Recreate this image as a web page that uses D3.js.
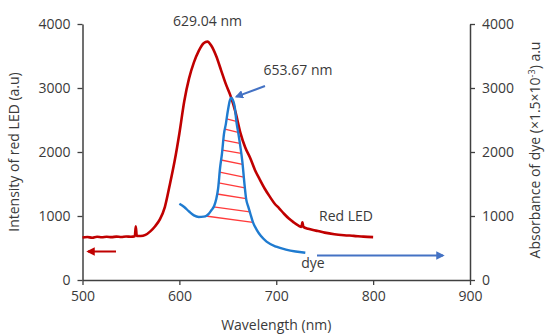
<!DOCTYPE html>
<html>
<head>
<meta charset="utf-8">
<script src="https://cdn.jsdelivr.net/npm/d3@7"></script>
<style>
body { margin: 0; background: #fff; }
text { font-family: "Open Sans", sans-serif; fill: #3a3a3a; }
</style>
</head>
<body>
<div class="container"></div>
<script>
const width = 547;
const height = 336;
const margin = {left: 82.5, right: 77, top: 24, bottom: 56};

// red LED emission spectrum (nm, a.u.)
const ledWave = [500, 505, 510, 515, 520, 525, 530, 535, 540, 545, 550, 554, 555, 556, 560, 565, 570, 575, 580, 585,
    590, 595, 600, 605, 610, 615, 620, 625, 629, 633, 638, 643, 648, 653, 658, 663, 668, 673, 678, 683,
    688, 693, 698, 703, 708, 713, 718, 723, 726, 727, 728, 733, 738, 743, 750, 760, 770, 780, 790, 800];
const ledValue = [665, 672, 660, 675, 668, 676, 670, 678, 672, 680, 676, 684, 840, 690, 688, 705, 760, 840, 950, 1140,
    1480, 1850, 2290, 2790, 3150, 3400, 3580, 3700, 3725, 3660, 3500, 3280, 3060, 2870, 2620, 2300, 2070, 1910, 1720, 1570,
    1430, 1310, 1200, 1120, 1035, 960, 900, 850, 830, 900, 830, 800, 780, 765, 740, 715, 700, 690, 678, 670];

// dye absorbance (right axis)
const dyeWave = [600, 605, 610, 615, 620, 625, 628, 630, 633, 636, 638, 640, 642, 644, 646, 648, 650, 652, 653.67,
    655, 657, 659, 661, 663, 665, 667, 669, 671, 673, 676, 680, 684, 690, 700, 710, 720, 730];
const dyeValue = [1190, 1140, 1070, 1010, 985, 990, 1005, 1030, 1090, 1160, 1260, 1430, 1750, 1980, 2280, 2440, 2640, 2800, 2850,
    2820, 2720, 2460, 2280, 2080, 1850, 1530, 1260, 1150, 1050, 900, 780, 690, 600, 520, 475, 445, 425];

// hatch lines: value where each meets the left and right side of the dye peak
const hatchLeft = [2516, 2359, 2187, 2031, 1875, 1687, 1516, 1344, 1141, 1000];
const hatchRight = [2480, 2307, 2135, 1979, 1808, 1609, 1438, 1271, 1063, 900];

const xTicks = [500, 600, 700, 800, 900];
const yTicks = [0, 1000, 2000, 3000, 4000];

const svg = d3.select('.container')
    .append('svg')
    .attr('width', width)
    .attr('height', height);

const x = d3.scaleLinear().domain([500, 900]).range([margin.left, width - margin.right]);
const y = d3.scaleLinear().domain([0, 4000]).range([height - margin.bottom, margin.top]);
const yR = d3.scaleLinear().domain([0, 4000]).range([height - margin.bottom, margin.top]);

const led = ledWave.map((w, i) => ({w, v: ledValue[i]}));
const dye = dyeWave.map((w, i) => ({w, v: dyeValue[i]}));

// arrow heads
const defs = svg.append('defs');
[['headRed', '#c00000'], ['headBlue', '#4472c4']].forEach(([id, c]) => {
    defs.append('marker')
        .attr('id', id)
        .attr('viewBox', '0 0 10 10')
        .attr('refX', 8).attr('refY', 5)
        .attr('markerWidth', 4.2).attr('markerHeight', 4.2)
        .attr('orient', 'auto')
        .append('path')
        .attr('d', 'M0,0 L10,5 L0,10 Z')
        .attr('fill', c);
});

// axes
function styleAxis(g) {
    g.select('.domain').attr('stroke', '#404040').attr('stroke-width', 1.5);
    g.selectAll('.tick line').attr('stroke', '#404040').attr('stroke-width', 1.3);
    g.selectAll('.tick text').attr('font-size', 14).style('fill', '#3a3a3a');
}

svg.append('g')
    .attr('transform', `translate(0,${y(0)})`)
    .call(d3.axisBottom(x).tickValues(xTicks).tickSize(5).tickSizeOuter(0).tickPadding(6).tickFormat(d3.format('d')))
    .call(styleAxis);

svg.append('g')
    .attr('transform', `translate(${x(500)},0)`)
    .call(d3.axisLeft(y).tickValues(yTicks).tickSize(5).tickSizeOuter(0).tickPadding(7).tickFormat(d3.format('d')))
    .call(styleAxis);

svg.append('g')
    .attr('transform', `translate(${x(900)},0)`)
    .call(d3.axisRight(yR).tickValues(yTicks).tickSize(5).tickSizeOuter(0).tickPadding(7).tickFormat(d3.format('d')))
    .call(styleAxis);

// axis titles
svg.append('text')
    .attr('transform', `translate(19,${(y(0) + y(4000)) / 2}) rotate(-90)`)
    .attr('text-anchor', 'middle')
    .attr('font-size', 14)
    .text('Intensity of red LED (a.u)');

const rt = svg.append('text')
    .attr('transform', `translate(540,${(y(0) + y(4000)) / 2 - 2}) rotate(-90)`)
    .attr('text-anchor', 'middle')
    .attr('font-size', 14);
rt.append('tspan').text('Absorbance of dye (×1.5×10');
rt.append('tspan').attr('dy', -5).attr('font-size', 9).text('-3');
rt.append('tspan').attr('dy', 5).text(') a.u');

svg.append('text')
    .attr('x', (x(500) + x(900)) / 2)
    .attr('y', 330)
    .attr('text-anchor', 'middle')
    .attr('font-size', 14)
    .text('Wavelength (nm)');

// hatch between the sides of the dye peak
const peak = d3.maxIndex(dyeValue);
function crossing(v, left) {
    if (left) {
        for (let i = peak; i > 0; i--) {
            const a = dye[i - 1], b = dye[i];
            if (a.v <= v && b.v >= v) return a.w + (v - a.v) / (b.v - a.v) * (b.w - a.w);
        }
    } else {
        for (let i = peak; i < dye.length - 1; i++) {
            const a = dye[i], b = dye[i + 1];
            if (a.v >= v && b.v <= v) return a.w + (a.v - v) / (a.v - b.v) * (b.w - a.w);
        }
    }
    return null;
}

svg.append('g')
    .selectAll('line')
    .data(hatchLeft.map((v, i) => ({v1: v, v2: hatchRight[i]})))
    .enter()
    .append('line')
    .attr('x1', d => x(crossing(d.v1, true)))
    .attr('y1', d => yR(d.v1))
    .attr('x2', d => x(crossing(d.v2, false)))
    .attr('y2', d => yR(d.v2))
    .attr('stroke', '#ff3b3b')
    .attr('stroke-width', 1.3);

// curves
svg.append('path')
    .datum(led)
    .attr('fill', 'none')
    .attr('stroke', '#c00000')
    .attr('stroke-width', 2.6)
    .attr('stroke-linejoin', 'round')
    .attr('d', d3.line().x(d => x(d.w)).y(d => y(d.v)).curve(d3.curveMonotoneX));

svg.append('path')
    .datum(dye)
    .attr('fill', 'none')
    .attr('stroke', '#1f7bd0')
    .attr('stroke-width', 2.4)
    .attr('d', d3.line().x(d => x(d.w)).y(d => yR(d.v)).curve(d3.curveMonotoneX));

// annotations
svg.append('text').attr('x', x(629.04)).attr('y', 26).attr('text-anchor', 'middle')
    .attr('font-size', 14).text('629.04 nm');
svg.append('text').attr('x', 298).attr('y', 75).attr('text-anchor', 'middle')
    .attr('font-size', 14).text('653.67 nm');
svg.append('text').attr('x', 346).attr('y', 221).attr('text-anchor', 'middle')
    .attr('font-size', 14).text('Red LED');
svg.append('text').attr('x', 313).attr('y', 268).attr('text-anchor', 'middle')
    .attr('font-size', 14).text('dye');

svg.append('line')
    .attr('x1', 265).attr('y1', 86).attr('x2', x(653.67) + 5).attr('y2', yR(2850) - 1)
    .attr('stroke', '#4472c4').attr('stroke-width', 2).attr('marker-end', 'url(#headBlue)');

svg.append('line')
    .attr('x1', 317).attr('y1', 255.5).attr('x2', 443).attr('y2', 255.5)
    .attr('stroke', '#4472c4').attr('stroke-width', 2).attr('marker-end', 'url(#headBlue)');

svg.append('line')
    .attr('x1', 116).attr('y1', 251.5).attr('x2', 88).attr('y2', 251.5)
    .attr('stroke', '#c00000').attr('stroke-width', 2).attr('marker-end', 'url(#headRed)');
</script>
</body>
</html>
